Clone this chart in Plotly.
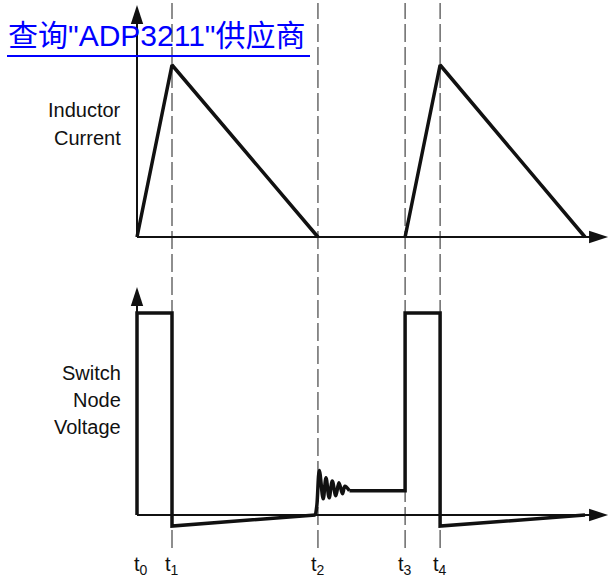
import plotly.graph_objects as go

# ---------------- data ----------------
# time instants (arbitrary time units) and their labels
t_labels = ["t<sub>0</sub>", "t<sub>1</sub>", "t<sub>2</sub>", "t<sub>3</sub>", "t<sub>4</sub>"]
t_marks = [0.0, 1.0, 5.17, 7.66, 8.66]
t_axis_end = 13.46

# inductor current (normalised to peak)
cur_t = [0.0, 1.0, 5.17, None, 7.66, 8.66, 12.8]
cur_v = [0.0, 1.0, 0.0, None, 0.0, 1.0, 0.0]
cur_axis_top = 1.349

# switch node voltage (normalised to input voltage)
sw1_t = [0.0, 0.0, 1.0, 1.0, 5.10]
sw1_v = [0.0, 1.0, 1.0, -0.055, 0.0]
ring_t = [5.10, 5.14, 5.21, 5.32, 5.40, 5.49, 5.58, 5.68, 5.77, 5.87, 5.94, 6.07]
ring_v = [0.0, 0.05, 0.22, 0.08, 0.185, 0.085, 0.168, 0.095, 0.16, 0.105, 0.142, 0.12]
sw2_t = [6.07, 7.66, 7.66, 8.66, 8.66, 12.8]
sw2_v = [0.12, 0.12, 1.0, 1.0, -0.055, 0.0]
sw_axis_top = 1.129

title_text = '查询"ADP3211"供应商'
label_current = ["Inductor", "Current"]
label_voltage = ["Switch", "Node", "Voltage"]

# ---------------- layout geometry ----------------
W, H = 610, 578
X0_PX, PX_PER_T = 137, 35.0
CUR_BASE_PX, CUR_PEAK_PX = 237, 65
SW_BASE_PX, SW_HIGH_PX = 515, 313
SPLIT_PX = 277.0

x_range = [(0 - X0_PX) / PX_PER_T, (W - X0_PX) / PX_PER_T]
cur_scale = CUR_BASE_PX - CUR_PEAK_PX
sw_scale = SW_BASE_PX - SW_HIGH_PX
y1_range = [(CUR_BASE_PX - SPLIT_PX) / cur_scale, CUR_BASE_PX / cur_scale]
y2_range = [(SW_BASE_PX - H) / sw_scale, (SW_BASE_PX - SPLIT_PX) / sw_scale]
split_frac = 1 - SPLIT_PX / H

def py(px):
    return 1 - px / H

BLACK = "#111111"
ARROW_SIZE = 20
fig = go.Figure()

# axes lines
fig.add_trace(go.Scatter(x=[0, 0, None, 0, t_axis_end - 0.2],
                         y=[0, cur_axis_top - 0.05, None, 0, 0],
                         mode="lines", line=dict(color=BLACK, width=2),
                         xaxis="x", yaxis="y", hoverinfo="skip", cliponaxis=False))
fig.add_trace(go.Scatter(x=[0, 0, None, 0, t_axis_end - 0.2],
                         y=[0, sw_axis_top - 0.05, None, 0, 0],
                         mode="lines", line=dict(color=BLACK, width=2),
                         xaxis="x", yaxis="y2", hoverinfo="skip", cliponaxis=False))
# arrow heads
fig.add_trace(go.Scatter(x=[0, t_axis_end], y=[cur_axis_top, 0], mode="markers",
                         marker=dict(symbol="arrow", size=ARROW_SIZE, angle=[0, 90], color=BLACK,
                                     line=dict(width=0)),
                         xaxis="x", yaxis="y", hoverinfo="skip", cliponaxis=False))
fig.add_trace(go.Scatter(x=[0, t_axis_end], y=[sw_axis_top, 0], mode="markers",
                         marker=dict(symbol="arrow", size=ARROW_SIZE, angle=[0, 90], color=BLACK,
                                     line=dict(width=0)),
                         xaxis="x", yaxis="y2", hoverinfo="skip", cliponaxis=False))

# waveforms
fig.add_trace(go.Scatter(x=cur_t, y=cur_v, mode="lines",
                         line=dict(color=BLACK, width=3.5), xaxis="x", yaxis="y",
                         hoverinfo="skip", cliponaxis=False))
fig.add_trace(go.Scatter(x=sw1_t, y=sw1_v, mode="lines",
                         line=dict(color=BLACK, width=3.5), xaxis="x", yaxis="y2",
                         hoverinfo="skip", cliponaxis=False))
fig.add_trace(go.Scatter(x=ring_t, y=ring_v, mode="lines",
                         line=dict(color=BLACK, width=3.5, shape="spline", smoothing=1.0),
                         xaxis="x", yaxis="y2", hoverinfo="skip", cliponaxis=False))
fig.add_trace(go.Scatter(x=sw2_t, y=sw2_v, mode="lines",
                         line=dict(color=BLACK, width=3.5), xaxis="x", yaxis="y2",
                         hoverinfo="skip", cliponaxis=False))

shapes = []
for t in t_marks[1:]:
    shapes.append(dict(type="line", xref="x", yref="paper", x0=t, x1=t,
                       y0=py(548), y1=py(3), layer="below",
                       line=dict(color="#444444", width=1.2, dash="18px,5px")))
# title underline
shapes.append(dict(type="line", xref="paper", yref="paper", x0=7 / W, x1=310 / W,
                   y0=py(56), y1=py(56), line=dict(color="#0000FF", width=2)))

annotations = []
LABEL_FONT = dict(family="Liberation Sans, Arial, sans-serif", size=20, color="#111111")
for i, s in enumerate(label_current):
    annotations.append(dict(text=s, xref="paper", yref="paper", x=123 / W, y=py(110 + 28 * i),
                            xanchor="right", yanchor="middle", showarrow=False, font=LABEL_FONT))
for i, s in enumerate(label_voltage):
    annotations.append(dict(text=s, xref="paper", yref="paper", x=123 / W, y=py(373 + 27 * i),
                            xanchor="right", yanchor="middle", showarrow=False, font=LABEL_FONT))
for lab, t in zip(t_labels, t_marks):
    annotations.append(dict(text=lab, xref="x", yref="paper", x=t + (0.1 if t == 0 else 0),
                            y=py(565), xanchor="center", yanchor="middle", showarrow=False,
                            font=LABEL_FONT))
annotations.append(dict(text=title_text, xref="paper", yref="paper", x=6 / W, y=py(35),
                        xanchor="left", yanchor="middle", showarrow=False,
                        font=dict(family="Liberation Sans, Noto Sans CJK SC, sans-serif",
                                  size=30, color="#0000FF")))

axis_common = dict(visible=False, showgrid=False, zeroline=False, fixedrange=True)
fig.update_layout(
    width=W, height=H, margin=dict(l=0, r=0, t=0, b=0),
    paper_bgcolor="white", plot_bgcolor="white", showlegend=False,
    xaxis=dict(range=x_range, domain=[0, 1], **axis_common),
    yaxis=dict(range=y1_range, domain=[split_frac, 1], **axis_common),
    yaxis2=dict(range=y2_range, domain=[0, split_frac], **axis_common),
    shapes=shapes, annotations=annotations,
)

fig.write_html("out.html", config={"displayModeBar": False},
               post_script="document.body.style.margin='0px';document.body.style.overflow='hidden';")
